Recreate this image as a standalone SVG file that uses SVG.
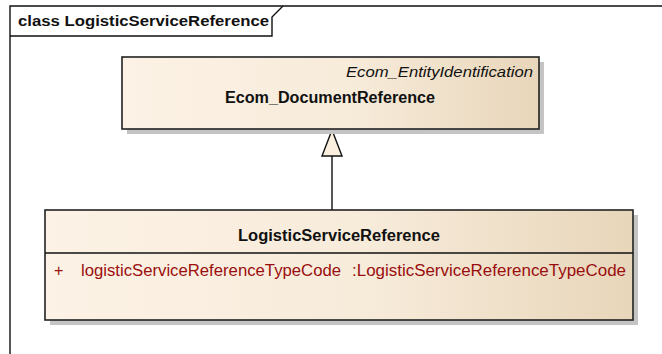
<svg xmlns="http://www.w3.org/2000/svg" width="662" height="354" viewBox="0 0 662 354">
<defs>
<linearGradient id="g" x1="0" y1="0" x2="1" y2="0">
<stop offset="0" stop-color="#FCF2E5"/>
<stop offset="0.55" stop-color="#F7EBDA"/>
<stop offset="1" stop-color="#E8D6BA"/>
</linearGradient>
<style>
.shadow{fill:#C4C4C4;stroke:none}
.box{fill:url(#g);stroke:#222;stroke-width:1.6}
.t{font-family:"Liberation Sans",Arial,sans-serif;fill:#111}
.b{font-weight:bold;font-size:16px}
.i{font-style:italic;font-size:15.5px}
.a{font-size:16px;fill:#9A0E0E}
.ln{stroke:#111;stroke-width:1.4;fill:none}
</style>
</defs>
<rect width="662" height="354" fill="#fff"/>
<g id="frame">
<path class="ln" d="M10,354 V6 H662"/>
<path class="ln" d="M10,36 H272 V17 L283,6"/>
<text class="t" x="18" y="26" font-size="14.5" font-weight="bold" textLength="251" lengthAdjust="spacingAndGlyphs">class LogisticServiceReference</text>
</g>
<g id="connectors">
<line class="ln" x1="332" y1="156" x2="332" y2="210"/>
<polygon points="332,130 322,156 342,156" fill="#FBF0E0" stroke="#111" stroke-width="1.4"/>
</g>
<g id="Ecom_DocumentReference">
<rect class="shadow" x="127" y="62" width="417" height="72"/>
<rect class="box" x="122" y="57" width="417" height="72"/>
<text class="t i" x="533" y="77" text-anchor="end" textLength="187" lengthAdjust="spacingAndGlyphs">Ecom_EntityIdentification</text>
<text class="t b" x="330" y="102.5" text-anchor="middle" textLength="210" lengthAdjust="spacingAndGlyphs">Ecom_DocumentReference</text>
</g>
<g id="LogisticServiceReference">
<rect class="shadow" x="50" y="215" width="588" height="110"/>
<rect class="box" x="45" y="210" width="588" height="110"/>
<line class="ln" x1="45" y1="253" x2="633" y2="253"/>
<text class="t b" x="339" y="240.5" text-anchor="middle" textLength="202" lengthAdjust="spacingAndGlyphs">LogisticServiceReference</text>
<text class="t a" x="54" y="275.5">+</text>
<text class="t a" x="81" y="275.5" textLength="260" lengthAdjust="spacingAndGlyphs">logisticServiceReferenceTypeCode</text>
<text class="t a" x="352" y="275.5" textLength="274" lengthAdjust="spacingAndGlyphs">:LogisticServiceReferenceTypeCode</text>
</g>
</svg>
